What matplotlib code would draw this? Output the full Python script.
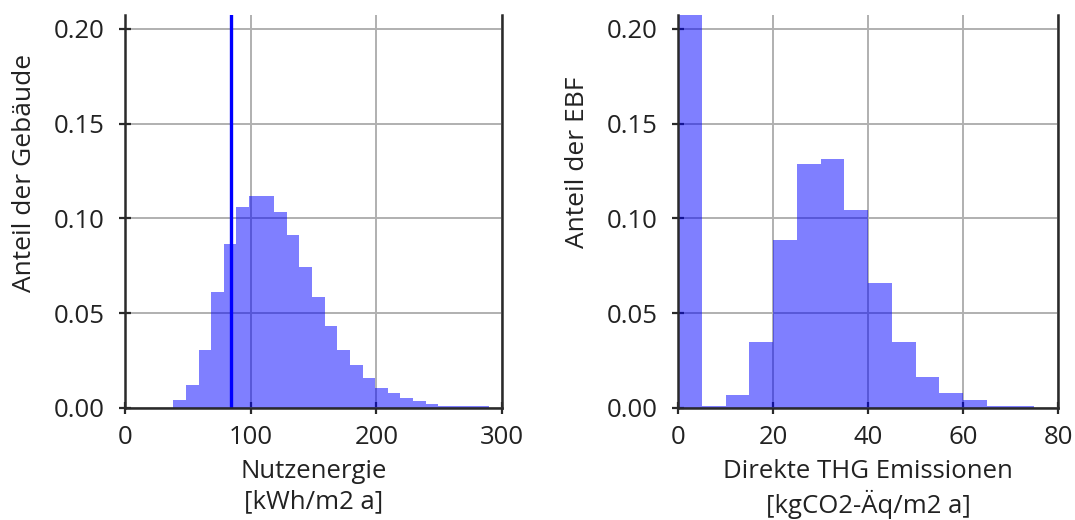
import matplotlib
matplotlib.use("Agg")
import matplotlib.pyplot as plt

plt.rcParams["font.family"] = ["Open Sans", "DejaVu Sans"]

# left histogram: Nutzenergie, 25 bins
energy_edges = [38.5, 48.5, 58.6, 68.6, 78.6, 88.7, 98.7, 108.7, 118.8, 128.8,
                138.8, 148.9, 158.9, 168.9, 179.0, 189.0, 199.0, 209.1, 219.1,
                229.1, 239.2, 249.2, 259.2, 269.3, 279.3, 289.3]
energy_share = [0.0044, 0.0123, 0.0308, 0.0610, 0.0865, 0.1061, 0.1117, 0.1117,
                0.1034, 0.0915, 0.0744, 0.0586, 0.0431, 0.0304, 0.0225, 0.0158,
                0.0106, 0.0079, 0.0053, 0.0035, 0.0021, 0.0012, 0.0009, 0.0009,
                0.0008]
energy_marker = 84.3

# right histogram: direct GHG emissions, bins of 5
ghg_edges = [0, 5, 10, 15, 20, 25, 30, 35, 40, 45, 50, 55, 60, 65, 70, 75]
ghg_share = [0.31, 0.0012, 0.0068, 0.0346, 0.0889, 0.1288, 0.1316, 0.1047,
             0.0661, 0.0346, 0.0161, 0.0079, 0.0042, 0.0012, 0.0012]

y_ticks = [0.0, 0.05, 0.10, 0.15, 0.20]
y_max = 0.2074

fig = plt.figure(figsize=(10.75, 5.2), dpi=100)
ax1 = fig.add_axes([0.1163, 0.2154, 0.3507, 0.7558])
ax2 = fig.add_axes([0.6307, 0.2154, 0.3535, 0.7558])

fill = (0.0, 0.0, 1.0, 0.5)
text_col = "#222222"
fs = 18.5


def style_axis(ax, xlim, xticks):
    ax.set_xlim(*xlim)
    ax.set_ylim(0, y_max)
    ax.set_xticks(xticks)
    ax.set_yticks(y_ticks)
    ax.set_yticklabels([f"{t:.2f}" for t in y_ticks])
    ax.grid(True, color="#b0b0b0", linewidth=1.4)
    ax.set_axisbelow(True)
    ax.spines["top"].set_visible(False)
    for side in ["left", "right", "bottom"]:
        ax.spines[side].set_linewidth(1.8)
        ax.spines[side].set_color("#2a2a2a")
    ax.tick_params(direction="inout", length=9, width=1.6, color="#2a2a2a",
                   labelsize=fs, labelcolor=text_col)
    ax.tick_params(axis="y", pad=10)
    ax.tick_params(axis="x", pad=8)


ax1.stairs(energy_share, energy_edges, fill=True, color=fill, linewidth=0)
ax1.axvline(energy_marker, color="blue", linewidth=2.4)
style_axis(ax1, (0, 300), [0, 100, 200, 300])
ax1.set_ylabel("Anteil der Gebäude", fontsize=19, color=text_col)
ax1.yaxis.set_label_coords(-0.233, 0.598)
ax1.set_xlabel("Nutzenergie\n[kWh/m2 a]", fontsize=fs, color=text_col,
               linespacing=1.28, labelpad=6)

ax2.stairs(ghg_share, ghg_edges, fill=True, color=fill, linewidth=0)
style_axis(ax2, (0, 80), [0, 20, 40, 60, 80])
ax2.set_ylabel("Anteil der EBF", fontsize=19, color=text_col)
ax2.yaxis.set_label_coords(-0.232, 0.625)
ax2.set_xlabel("Direkte THG Emissionen\n[kgCO2-Äq/m2 a]", fontsize=fs,
               color=text_col, linespacing=1.28, labelpad=6)

fig.savefig("out.png", dpi=100)
